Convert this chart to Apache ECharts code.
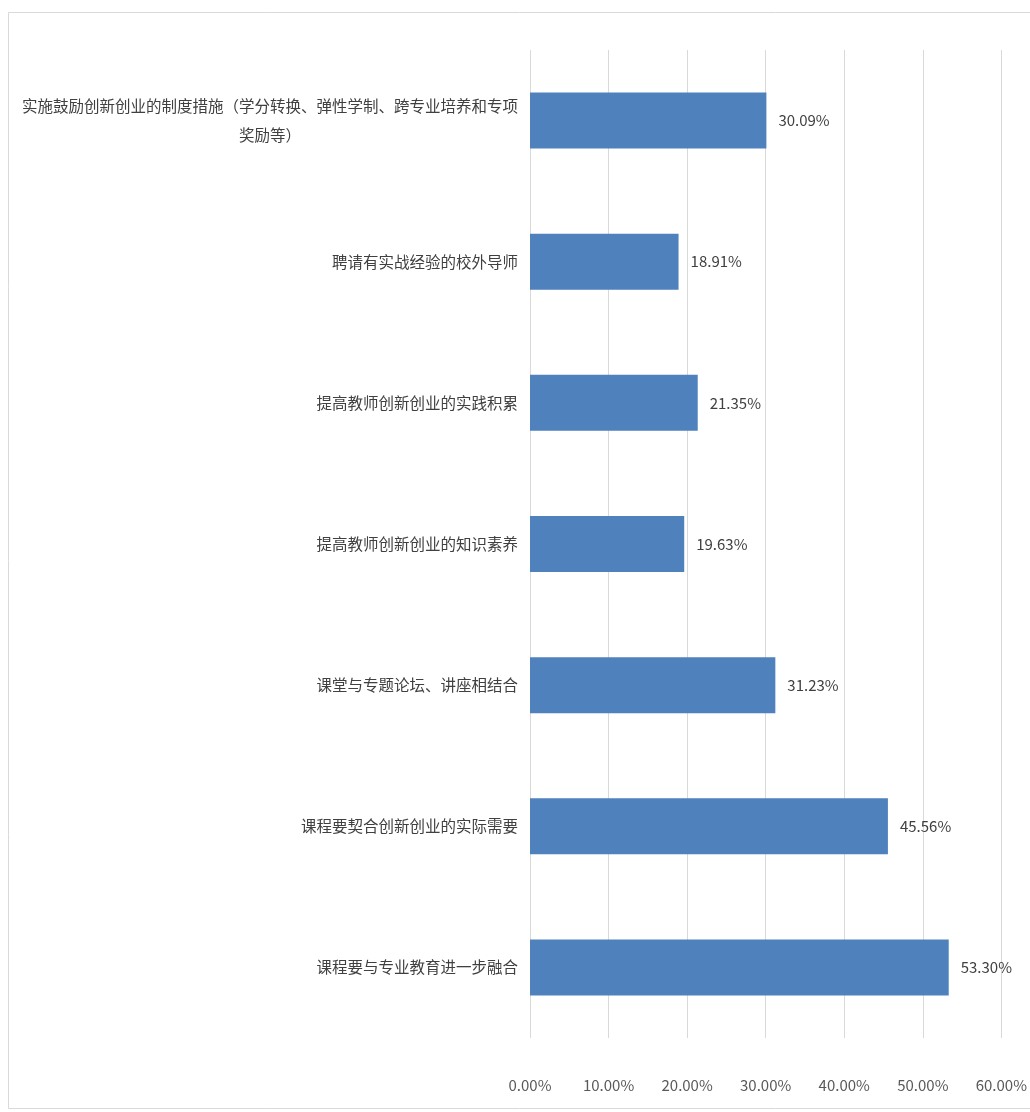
<!DOCTYPE html>
<html>
<head>
<meta charset="utf-8">
<script src="https://cdn.jsdelivr.net/npm/echarts@6/dist/echarts.min.js"></script>
<style>
html,body{margin:0;padding:0;background:#fff;overflow:hidden;}
#chart{width:1030px;height:1112px;}
</style>
</head>
<body>
<div id="chart"></div>
<script>
// Categories listed bottom-to-top (ECharts category y-axis order)
const categories = [
  '课程要与专业教育进一步融合',
  '课程要契合创新创业的实际需要',
  '课堂与专题论坛、讲座相结合',
  '提高教师创新创业的知识素养',
  '提高教师创新创业的实践积累',
  '聘请有实战经验的校外导师',
  '实施鼓励创新创业的制度措施（学分转换、弹性学制、跨专业培养和专项\n奖励等）'
];
const values = [53.30, 45.56, 31.23, 19.63, 21.35, 18.91, 30.09];
const xTicks = [0, 10, 20, 30, 40, 50, 60];

const chart = echarts.init(document.getElementById('chart'));
const font = '"Noto Sans CJK SC", "Noto Sans", sans-serif';
chart.setOption({
  backgroundColor: '#fff',
  animation: false,
  graphic: [{
    type: 'rect',
    shape: {x: 8.5, y: 12.5, width: 1030, height: 1096},
    style: {fill: 'none', stroke: '#d9d9d9', lineWidth: 1},
    silent: true, z: -1
  }],
  grid: {left: 530, width: 478, top: 50, height: 988, containLabel: false},
  xAxis: {
    type: 'value',
    min: xTicks[0],
    max: xTicks[xTicks.length - 1],
    interval: 10,
    axisLine: {show: false},
    axisTick: {show: false},
    splitLine: {show: true, lineStyle: {color: '#d9d9d9', width: 1}},
    axisLabel: {
      formatter: v => v.toFixed(2) + '%',
      color: '#595959', fontSize: 15, fontFamily: font, margin: 40
    }
  },
  yAxis: {
    type: 'category',
    data: categories,
    axisLine: {show: false},
    axisTick: {show: false},
    axisLabel: {
      color: '#404040', fontSize: 15.5, fontFamily: font, margin: 12,
      lineHeight: 29,
      formatter: function (v) {
        if (v.indexOf('\n') >= 0) {
          const parts = v.split('\n');
          return '{a|' + parts[0] + '}\n{b|' + parts[1] + '}';
        }
        return v;
      },
      rich: {
        a: {fontSize: 15.5, fontFamily: font, color: '#404040', lineHeight: 29},
        b: {fontSize: 15.5, fontFamily: font, color: '#404040', lineHeight: 29, align: 'center'}
      }
    }
  },
  series: [{
    type: 'bar',
    data: values,
    barWidth: 56,
    itemStyle: {color: '#4f81bd'},
    label: {
      show: true, position: 'right', distance: 12,
      formatter: p => p.value.toFixed(2) + '%',
      color: '#404040', fontSize: 15, fontFamily: font
    }
  }]
});
</script>
</body>
</html>
